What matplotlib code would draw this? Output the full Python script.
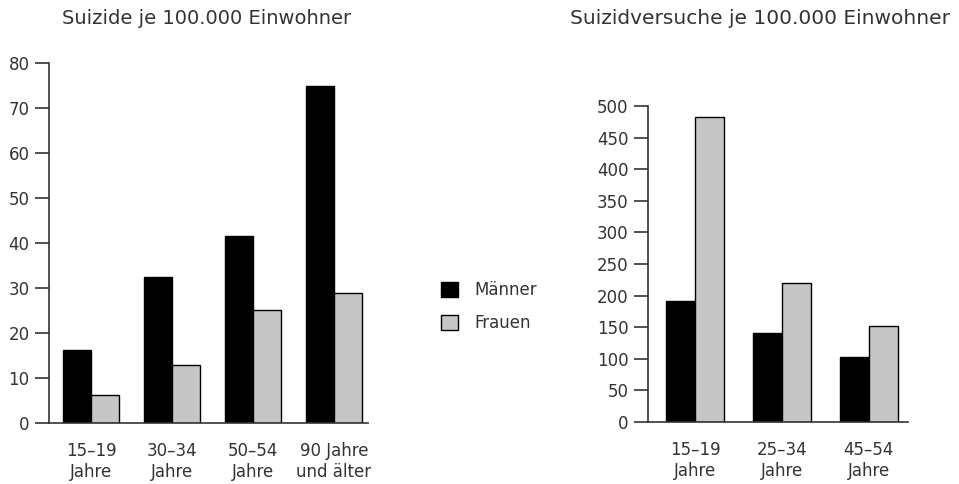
import matplotlib
matplotlib.use("Agg")
import matplotlib.pyplot as plt
from matplotlib.patches import Patch
import numpy as np

plt.rcParams['font.family'] = ['DejaVu Sans']

# Data
left_title = "Suizide je 100.000 Einwohner"
left_categories = ["15–19\nJahre", "30–34\nJahre", "50–54\nJahre", "90 Jahre\nund älter"]
left_maenner = [16.3, 32.5, 41.5, 75.0]
left_frauen = [6.2, 13.0, 25.2, 29.0]

right_title = "Suizidversuche je 100.000 Einwohner"
right_categories = ["15–19\nJahre", "25–34\nJahre", "45–54\nJahre"]
right_maenner = [191, 141, 103]
right_frauen = [483, 220, 152]

series_labels = ["Männer", "Frauen"]
colors = ["#000000", "#c6c6c6"]
text_color = "#333333"

W, H = 959, 484
fig = plt.figure(figsize=(W / 100, H / 100), dpi=100)

def px_axes(x0, y0, x1, y1):
    return fig.add_axes([x0 / W, 1 - y1 / H, (x1 - x0) / W, (y1 - y0) / H])

def style(ax, ticks):
    for s in ["top", "right"]:
        ax.spines[s].set_visible(False)
    for s in ["left", "bottom"]:
        ax.spines[s].set_linewidth(1.2)
        ax.spines[s].set_color("#333333")
    ax.set_yticks(ticks)
    ax.tick_params(axis="y", length=10, width=1.2, color="#333333",
                   labelsize=12, labelcolor=text_color, pad=4)
    ax.tick_params(axis="x", length=0, labelsize=12, labelcolor=text_color, pad=14)

# Left chart
axL = px_axes(49, 63, 368, 423)
x = np.arange(len(left_categories))
w = 0.35
axL.bar(x - w / 2, left_maenner, w, color=colors[0], edgecolor="black", linewidth=1)
axL.bar(x + w / 2, left_frauen, w, color=colors[1], edgecolor="black", linewidth=1)
axL.set_xlim(-0.52, 3.42)
axL.set_ylim(0, 80)
style(axL, np.arange(0, 81, 10))
axL.set_xticks(x)
axL.set_xticklabels(left_categories, linespacing=1.2)

# Right chart
axR = px_axes(648, 106, 908, 422)
x2 = np.arange(len(right_categories))
w2 = 0.33
axR.bar(x2 - w2 / 2, right_maenner, w2, color=colors[0], edgecolor="black", linewidth=1)
axR.bar(x2 + w2 / 2, right_frauen, w2, color=colors[1], edgecolor="black", linewidth=1)
axR.set_xlim(-0.54, 2.45)
axR.set_ylim(0, 500)
style(axR, np.arange(0, 501, 50))
axR.set_xticks(x2)
axR.set_xticklabels(right_categories, linespacing=1.2)

# Titles
fig.text(62 / W, 1 - 18 / H, left_title, fontsize=14, color=text_color, va="center", ha="left")
fig.text(570 / W, 1 - 18 / H, right_title, fontsize=14.5, color=text_color, va="center", ha="left")

# Legend
handles = [Patch(facecolor=c, edgecolor="black", linewidth=1) for c in colors]
fig.legend(handles, series_labels, loc="upper left", bbox_to_anchor=(426 / W, 1 - 266 / H),
           frameon=False, fontsize=12, handlelength=1.0, handleheight=1.0,
           labelspacing=0.9, handletextpad=1.0, labelcolor=text_color)

fig.savefig("out.png", dpi=100)
